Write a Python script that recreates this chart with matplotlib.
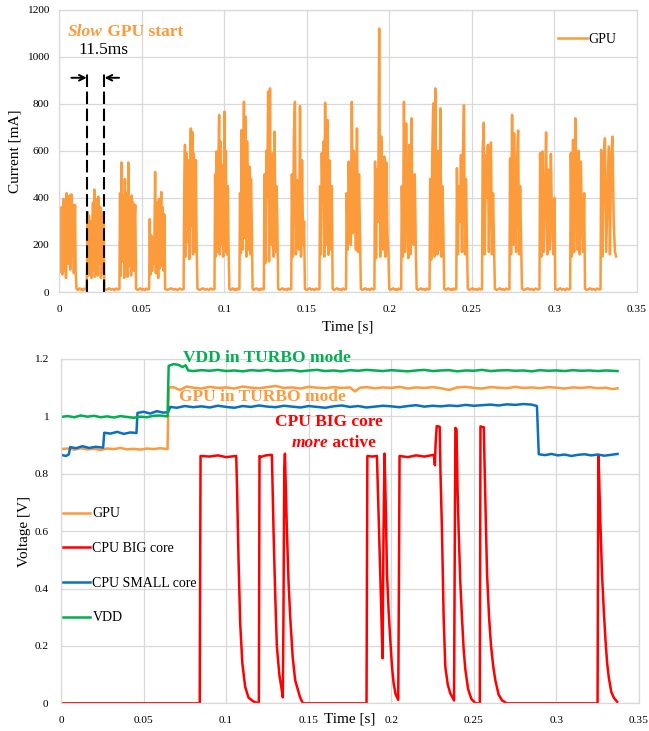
import numpy as np
import matplotlib
matplotlib.use("Agg")
import matplotlib.pyplot as plt
from matplotlib.ticker import FuncFormatter, MultipleLocator

# ---------------- data: top chart (GPU current, mA) ----------------
burst_start = [0.0, 0.0168, 0.0368, 0.0548, 0.0757, 0.0944, 0.1095, 0.1243, 0.1409, 0.1580,
               0.1741, 0.1913, 0.2075, 0.2247, 0.2409, 0.2565, 0.2731, 0.2913, 0.3099, 0.3283]
burst_end = [0.0099, 0.0268, 0.0460, 0.0636, 0.0832, 0.1025, 0.1166, 0.1321, 0.1483, 0.1651,
             0.1822, 0.1994, 0.2160, 0.2327, 0.2470, 0.2634, 0.2798, 0.3000, 0.3180, 0.3374]
burst_ma = [
    [230, 355, 85, 360, 200, 75, 330, 395, 90, 250, 310, 60, 420, 210, 380, 120, 300, 410, 95,
     300, 415, 150, 240, 370, 80, 280, 370, 90],
    [90, 340, 70, 325, 200, 110, 300, 60, 250, 380, 90, 435, 65, 330, 180, 395, 70, 405, 120,
     290, 360, 60, 340, 80, 250, 310],
    [420, 70, 550, 130, 380, 410, 60, 480, 100, 300, 420, 65, 550, 110, 400, 250, 70, 410, 190,
     380, 90, 300, 370],
    [310, 75, 240, 90, 230, 120, 200, 510, 80, 380, 250, 60, 395, 100, 300, 425, 110, 360, 90, 330],
    [450, 625, 150, 590, 400, 210, 560, 140, 480, 695, 280, 680, 160, 590, 350, 170, 560, 200],
    [500, 150, 597, 170, 420, 560, 752, 160, 640, 200, 480, 540, 150, 420, 766, 170, 600, 300,
     160, 450, 200],
    [420, 165, 688, 180, 500, 808, 230, 745, 150, 640, 400, 180, 533, 160, 480, 300],
    [500, 123, 600, 400, 851, 130, 865, 200, 500, 589, 150, 681, 170, 450, 300],
    [500, 150, 667, 808, 160, 476, 350, 180, 790, 150, 560, 200, 300],
    [450, 160, 590, 400, 639, 150, 804, 200, 550, 731, 158, 560, 300, 180, 450],
    [420, 180, 554, 300, 200, 808, 250, 600, 450, 180, 695, 170, 500, 220],
    [554, 144, 520, 300, 1119, 150, 660, 350, 180, 575, 150, 550, 250, 160],
    [450, 150, 808, 170, 716, 400, 144, 625, 160, 738, 300, 200, 500, 180],
    [480, 137, 575, 801, 150, 865, 400, 160, 600, 180, 780, 150, 450, 250],
    [526, 160, 450, 300, 582, 170, 600, 794, 160, 480, 200],
    [600, 719, 160, 580, 400, 625, 170, 560, 635, 160, 420, 200],
    [568, 160, 752, 200, 674, 400, 170, 560, 686, 160, 450, 200],
    [590, 150, 597, 170, 400, 678, 160, 520, 180, 587, 300, 160, 400],
    [590, 151, 646, 170, 738, 400, 180, 600, 160, 554, 300, 170, 420],
    [604, 151, 560, 653, 170, 400, 618, 160, 580, 660, 300, 170, 151],
]
idle_ma = [14, 9, 12, 16, 10, 13, 8, 15, 11, 12]

# ---------------- data: bottom chart (voltages, V) ----------------
gpu_v_t = [0, 0.004, 0.008, 0.012, 0.016, 0.02, 0.024, 0.028, 0.032, 0.036, 0.04, 0.044, 0.048,
           0.052, 0.056, 0.06, 0.0645, 0.0652, 0.068, 0.072, 0.076, 0.08, 0.085, 0.09, 0.095, 0.1,
           0.105, 0.11, 0.115, 0.12, 0.125, 0.13, 0.135, 0.14, 0.145, 0.15, 0.155, 0.16, 0.165,
           0.17, 0.175, 0.178, 0.181, 0.185, 0.19, 0.195, 0.2, 0.205, 0.21, 0.215, 0.22, 0.225,
           0.23, 0.235, 0.24, 0.245, 0.25, 0.255, 0.26, 0.265, 0.27, 0.275, 0.28, 0.285, 0.29,
           0.295, 0.3, 0.305, 0.31, 0.315, 0.32, 0.325, 0.33, 0.334, 0.337]
gpu_v = [0.886, 0.888, 0.884, 0.889, 0.885, 0.887, 0.883, 0.888, 0.886, 0.890, 0.885, 0.887, 0.884,
         0.888, 0.886, 0.889, 0.886, 1.100, 1.102, 1.092, 1.104, 1.100, 1.097, 1.103, 1.099, 1.101,
         1.097, 1.104, 1.100, 1.098, 1.102, 1.106, 1.099, 1.101, 1.097, 1.103, 1.100, 1.098, 1.102,
         1.099, 1.101, 1.087, 1.100, 1.102, 1.098, 1.101, 1.099, 1.103, 1.097, 1.101, 1.099, 1.102,
         1.098, 1.092, 1.101, 1.103, 1.099, 1.097, 1.102, 1.100, 1.098, 1.103, 1.099, 1.101, 1.098,
         1.102, 1.100, 1.097, 1.101, 1.099, 1.102, 1.098, 1.100, 1.095, 1.098]

vdd_t = [0, 0.004, 0.008, 0.012, 0.016, 0.02, 0.024, 0.028, 0.032, 0.036, 0.04, 0.044, 0.048,
         0.052, 0.056, 0.06, 0.0645, 0.0652, 0.068, 0.071, 0.0735, 0.0755, 0.077, 0.08, 0.085,
         0.09, 0.095, 0.1, 0.105, 0.11, 0.115, 0.12, 0.125, 0.13, 0.135, 0.14, 0.145, 0.15, 0.155,
         0.16, 0.165, 0.17, 0.175, 0.18, 0.185, 0.19, 0.195, 0.2, 0.205, 0.21, 0.215, 0.22, 0.225,
         0.23, 0.235, 0.24, 0.245, 0.25, 0.255, 0.26, 0.265, 0.27, 0.275, 0.28, 0.285, 0.29,
         0.295, 0.3, 0.305, 0.31, 0.315, 0.32, 0.325, 0.33, 0.337]
vdd_v = [0.998, 1.001, 0.997, 1.003, 0.999, 1.002, 0.997, 1.000, 0.996, 1.001, 0.998, 0.995, 0.999,
         0.997, 1.002, 1.003, 1.000, 1.176, 1.182, 1.180, 1.172, 1.178, 1.160, 1.158, 1.161,
         1.159, 1.162, 1.158, 1.160, 1.157, 1.161, 1.159, 1.162, 1.158, 1.160, 1.161, 1.157, 1.160,
         1.162, 1.158, 1.160, 1.157, 1.161, 1.159, 1.162, 1.160, 1.158, 1.161, 1.159, 1.157, 1.160,
         1.162, 1.158, 1.160, 1.161, 1.157, 1.160, 1.159, 1.162, 1.158, 1.160, 1.161, 1.159, 1.160,
         1.157, 1.161, 1.159, 1.160, 1.158, 1.161, 1.159, 1.160, 1.158, 1.160, 1.158]

small_t = [0, 0.003, 0.0048, 0.0055, 0.009, 0.013, 0.017, 0.021, 0.0255, 0.0262, 0.03, 0.034,
           0.038, 0.042, 0.0457, 0.0463, 0.05, 0.054, 0.058, 0.062, 0.0648, 0.0662, 0.07, 0.075,
           0.08, 0.085, 0.09, 0.095, 0.1, 0.105, 0.11, 0.115, 0.12, 0.125, 0.13, 0.135, 0.14,
           0.145, 0.15, 0.155, 0.16, 0.165, 0.17, 0.175, 0.18, 0.185, 0.19, 0.195, 0.2, 0.205,
           0.21, 0.215, 0.22, 0.225, 0.23, 0.235, 0.24, 0.245, 0.25, 0.255, 0.26, 0.265, 0.27,
           0.275, 0.28, 0.285, 0.2882, 0.2893, 0.293, 0.297, 0.301, 0.305, 0.309, 0.313, 0.317,
           0.321, 0.325, 0.329, 0.333, 0.337]
small_v = [0.866, 0.862, 0.868, 0.893, 0.889, 0.896, 0.890, 0.894, 0.891, 0.943, 0.940, 0.946,
           0.939, 0.944, 0.942, 1.012, 1.016, 1.010, 1.018, 1.013, 1.015, 1.033, 1.030, 1.036,
           1.032, 1.035, 1.031, 1.037, 1.033, 1.030, 1.036, 1.033, 1.038, 1.034, 1.032, 1.037,
           1.034, 1.031, 1.036, 1.033, 1.030, 1.035, 1.038, 1.033, 1.036, 1.031, 1.034, 1.037,
           1.035, 1.032, 1.036, 1.039, 1.034, 1.037, 1.035, 1.038, 1.036, 1.040, 1.037, 1.039,
           1.041, 1.038, 1.042, 1.040, 1.043, 1.041, 1.036, 0.868, 0.865, 0.869, 0.864, 0.867,
           0.862, 0.866, 0.868, 0.864, 0.867, 0.863, 0.866, 0.869]

big_t = [0, 0.0840, 0.0845, 0.090, 0.095, 0.100, 0.1061, 0.1066, 0.1075, 0.1085, 0.1098,
         0.1115, 0.1135, 0.1166, 0.1198, 0.1202, 0.1207, 0.124, 0.1277, 0.1287, 0.1297, 0.1307,
         0.1322, 0.1337, 0.1343, 0.1347, 0.1352, 0.1356, 0.1368, 0.1378, 0.1388, 0.1403, 0.1418,
         0.1448, 0.1465, 0.1850, 0.1855, 0.1885, 0.1913, 0.1925, 0.1938, 0.1947, 0.1953, 0.1959,
         0.1966, 0.1974, 0.1984, 0.1994, 0.2004, 0.2014, 0.2027, 0.2042, 0.2046, 0.2050, 0.210,
         0.215, 0.220, 0.2258, 0.2264, 0.2268, 0.2275, 0.2293, 0.2298, 0.2307, 0.2317, 0.2327,
         0.2342, 0.2357, 0.2380, 0.2384, 0.2388, 0.2395, 0.2401, 0.2408, 0.2418, 0.2428, 0.2438,
         0.2448, 0.2465, 0.2485, 0.2510, 0.2536, 0.2540, 0.2560, 0.2566, 0.2573, 0.2580, 0.2592,
         0.2604, 0.2617, 0.2630, 0.2650, 0.2671, 0.2700, 0.3249, 0.3254, 0.3258, 0.3265, 0.3276,
         0.3287, 0.3297, 0.3307, 0.3317, 0.3332, 0.3347, 0.3368]
big_v = [0, 0, 0.862, 0.860, 0.864, 0.858, 0.862, 0.75, 0.50, 0.28, 0.14,
         0.058, 0.020, 0.006, 0.0, 0.862, 0.858, 0.864, 0.866, 0.60, 0.38, 0.20,
         0.10, 0.045, 0.021, 0.30, 0.82, 0.870, 0.60, 0.42, 0.30, 0.16, 0.08,
         0.02, 0.0, 0.0, 0.862, 0.860, 0.862, 0.62, 0.35, 0.157, 0.60, 0.870,
         0.70, 0.45, 0.32, 0.22, 0.13, 0.07, 0.03, 0.012, 0.40, 0.862, 0.858,
         0.864, 0.860, 0.866, 0.830, 0.90, 0.966, 0.964, 0.80, 0.60, 0.30, 0.128,
         0.065, 0.035, 0.010, 0.50, 0.960, 0.955, 0.75, 0.60, 0.42, 0.30, 0.19,
         0.12, 0.05, 0.015, 0.0, 0.0, 0.965, 0.962, 0.80, 0.62, 0.45, 0.30,
         0.20, 0.13, 0.08, 0.03, 0.010, 0.0, 0.0, 0.862, 0.80, 0.65, 0.45,
         0.32, 0.22, 0.14, 0.09, 0.04, 0.02, 0.005]

x_ticks = [0, 0.05, 0.1, 0.15, 0.2, 0.25, 0.3, 0.35]

# ---------------- build GPU current series ----------------
gt, gi = [], []
for k, (t0, t1, vals) in enumerate(zip(burst_start, burst_end, burst_ma)):
    if k > 0:
        prev = burst_end[k - 1]
        gt.extend(np.linspace(prev + 0.0005, t0 - 0.0004, len(idle_ma)))
        gi.extend(idle_ma)
    gt.extend(np.linspace(t0, t1, len(vals)))
    gi.extend(vals)

# ---------------- styling ----------------
SERIF = ['Liberation Serif', 'DejaVu Serif']
plt.rcParams['font.family'] = SERIF
C_OR = '#FB9B3C'
C_RED = '#FF0000'
C_BLUE = '#0A70C0'
C_GREEN = '#00B050'
GRID = '#D9D9D9'

fig = plt.figure(figsize=(6.49, 7.31), dpi=100)
ax1 = fig.add_axes([0.0914, 0.6005, 0.8901, 0.3865])
ax2 = fig.add_axes([0.0940, 0.0379, 0.8906, 0.4710])

fmt = FuncFormatter(lambda v, p: f"{v:g}")
for ax in (ax1, ax2):
    ax.set_xlim(0, 0.35)
    ax.set_xticks(x_ticks)
    ax.xaxis.set_major_formatter(fmt)
    ax.yaxis.set_major_formatter(fmt)
    ax.grid(True, color=GRID, lw=0.9)
    ax.set_axisbelow(True)
    for s in ax.spines.values():
        s.set_color(GRID)
        s.set_linewidth(0.9)
    ax.tick_params(length=0, labelsize=8.2)

# ---- top chart ----
ax1.set_ylim(0, 1200)
ax1.yaxis.set_major_locator(MultipleLocator(200))
ax1.tick_params(axis='x', pad=9)
ax1.tick_params(axis='y', pad=7)
ax1.plot(gt, gi, color=C_OR, lw=1.8, label='GPU')
ax1.set_ylabel('Current [mA]', fontsize=11, labelpad=4)
ax1.set_xlabel('Time [s]', fontsize=11, labelpad=5)
ax1.legend(loc='upper left', bbox_to_anchor=(0.863, 0.918), frameon=False, fontsize=10,
           handlelength=2.1, handletextpad=0.1, borderpad=0, borderaxespad=0)

for xd in (0.0166, 0.0273):
    ax1.plot([xd, xd], [0, 935], color='black', lw=1.5, ls=(0, (6, 2.2)))
ax1.annotate('', xy=(0.0166, 910), xytext=(0.0073, 910),
             arrowprops=dict(arrowstyle='->', lw=1.4, color='black', shrinkA=0, shrinkB=0))
ax1.annotate('', xy=(0.0274, 910), xytext=(0.0362, 910),
             arrowprops=dict(arrowstyle='->', lw=1.4, color='black', shrinkA=0, shrinkB=0))
t_slow = ax1.text(0.0052, 1106, 'Slow', color=C_OR, fontsize=12.5, fontweight='bold',
                  fontstyle='italic', ha='left', va='center')
ax1.annotate(' GPU start', xy=(1, 0), xycoords=t_slow, color=C_OR, fontsize=12.5,
             fontweight='bold', ha='left', va='bottom')
ax1.text(0.0113, 1028, '11.5ms', color='black', fontsize=12.5, ha='left', va='center')

# ---- bottom chart ----
ax2.set_ylim(0, 1.2)
ax2.yaxis.set_major_locator(MultipleLocator(0.2))
ax2.tick_params(axis='x', pad=9)
ax2.tick_params(axis='y', pad=9)
ax2.plot(gpu_v_t, gpu_v, color=C_OR, lw=1.8, label='GPU')
ax2.plot(big_t, big_v, color=C_RED, lw=1.8, label='CPU BIG core')
ax2.plot(small_t, small_v, color=C_BLUE, lw=1.8, label='CPU SMALL core')
ax2.plot(vdd_t, vdd_v, color=C_GREEN, lw=1.8, label='VDD')
ax2.set_ylabel('Voltage [V]', fontsize=11, labelpad=2)
ax2.set_xlabel('Time [s]', fontsize=11)
ax2.xaxis.set_label_coords(0.5, -0.026)
ax2.legend(loc='upper left', bbox_to_anchor=(0.004, 0.569), frameon=False, fontsize=10,
           handlelength=1.95, handletextpad=0.15, labelspacing=1.56, borderpad=0,
           borderaxespad=0)

ax2.text(0.1248, 1.2035, 'VDD in TURBO mode', color=C_GREEN, fontsize=12.5,
         fontweight='bold', ha='center', va='center')
ax2.text(0.1221, 1.069, 'GPU in TURBO mode', color=C_OR, fontsize=12.5,
         fontweight='bold', ha='center', va='center')
ax2.text(0.162, 0.981, 'CPU BIG core', color=C_RED, fontsize=12.5,
         fontweight='bold', ha='center', va='center')
t_more = ax2.text(0.1395, 0.906, 'more', color=C_RED, fontsize=12.5, fontweight='bold',
                  fontstyle='italic', ha='left', va='center')
ax2.annotate(' active', xy=(1, 0), xycoords=t_more, color=C_RED, fontsize=12.5,
             fontweight='bold', ha='left', va='bottom')

fig.savefig('out.png', dpi=100)
